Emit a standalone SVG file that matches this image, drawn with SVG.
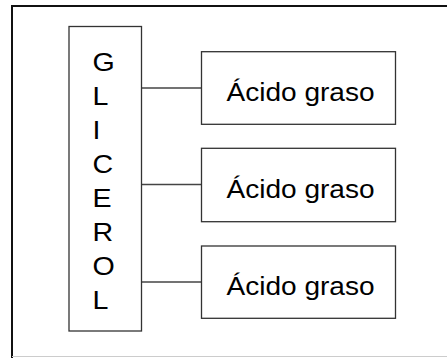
<svg xmlns="http://www.w3.org/2000/svg" width="447" height="358" viewBox="0 0 447 358">
<style>
.box{fill:#fff;stroke:#333;stroke-width:1.3}
.t{font-family:"Liberation Sans",Arial,sans-serif;font-size:26px;fill:#000}
.c{stroke:#444;stroke-width:1.3;fill:none}
</style>
<rect x="0" y="0" width="447" height="358" fill="#fff"/>
<g id="frame">
<path d="M12 358 V6 H447" fill="none" stroke="#111" stroke-width="2"/>
<line x1="12" y1="356.5" x2="447" y2="356.5" stroke="#ccc" stroke-width="1"/>
</g>
<g id="connectors">
<line class="c" x1="141.5" y1="88" x2="201.5" y2="88"/>
<line class="c" x1="141.5" y1="184.5" x2="201.5" y2="184.5"/>
<line class="c" x1="141.5" y1="282" x2="201.5" y2="282"/>
</g>
<g id="glicerol">
<rect class="box" x="69" y="26.5" width="72.5" height="304.5"/>
<text class="t" transform="matrix(1.1 0 0 1 92.5 70.7)">G</text>
<text class="t" transform="matrix(1.1 0 0 1 92.5 104.8)">L</text>
<text class="t" transform="matrix(1.1 0 0 1 92.5 138.9)">I</text>
<text class="t" transform="matrix(1.1 0 0 1 92.5 173)">C</text>
<text class="t" transform="matrix(1.1 0 0 1 92.5 207.1)">E</text>
<text class="t" transform="matrix(1.1 0 0 1 92.5 241.2)">R</text>
<text class="t" transform="matrix(1.1 0 0 1 92.5 275.3)">O</text>
<text class="t" transform="matrix(1.1 0 0 1 92.5 309.4)">L</text>
</g>
<g id="acido1">
<rect class="box" x="201.5" y="51.7" width="194" height="72.6"/>
<text class="t" x="226.5" y="101" textLength="148" lengthAdjust="spacingAndGlyphs">Ácido graso</text>
</g>
<g id="acido2">
<rect class="box" x="201.5" y="148.3" width="194" height="73.4"/>
<text class="t" x="226.5" y="198" textLength="148" lengthAdjust="spacingAndGlyphs">Ácido graso</text>
</g>
<g id="acido3">
<rect class="box" x="201.5" y="246" width="194" height="72.3"/>
<text class="t" x="226.5" y="295" textLength="148" lengthAdjust="spacingAndGlyphs">Ácido graso</text>
</g>
</svg>
